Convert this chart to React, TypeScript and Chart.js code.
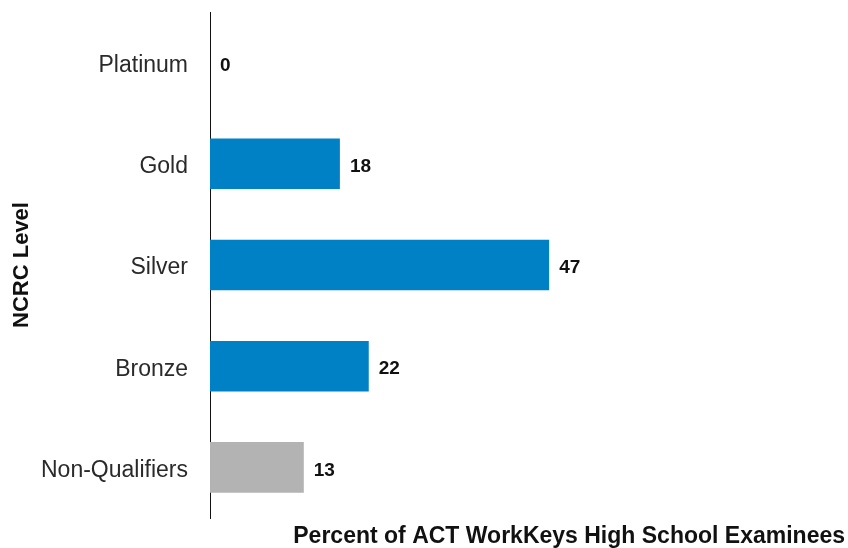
import React, { useEffect, useRef } from "react";
import { Chart, registerables } from "chart.js";

Chart.register(...registerables);

const categories = ["Platinum", "Gold", "Silver", "Bronze", "Non-Qualifiers"];
const percents = [0, 18, 47, 22, 13];
const barColors = ["#0081C6", "#0081C6", "#0081C6", "#0081C6", "#B3B3B3"];
const xTitle = "Percent of ACT WorkKeys High School Examinees";
const yTitle = "NCRC Level";

const FONT = "'Liberation Sans', Arial, sans-serif";

const valueLabels = {
  id: "valueLabels",
  afterDatasetsDraw(chart: any) {
    const ctx = chart.ctx;
    const meta = chart.getDatasetMeta(0);
    ctx.save();
    ctx.font = `bold 19px ${FONT}`;
    ctx.fillStyle = "#111";
    ctx.textAlign = "left";
    ctx.textBaseline = "middle";
    meta.data.forEach((bar: any, i: number) => {
      ctx.fillText(String(percents[i]), bar.x + 10, bar.y + 3);
    });
    ctx.restore();
  },
};

export default function App() {
  const ref = useRef<HTMLCanvasElement | null>(null);
  useEffect(() => {
    if (!ref.current) return;
    const chart = new Chart(ref.current, {
      type: "bar",
      data: {
        labels: categories,
        datasets: [
          {
            data: percents,
            backgroundColor: barColors,
            borderWidth: 0,
            barPercentage: 0.5,
            categoryPercentage: 1,
          },
        ],
      },
      options: {
        indexAxis: "y",
        animation: false,
        responsive: false,
        layout: { padding: { top: 12, right: 3, left: 0, bottom: 0 } },
        plugins: { legend: { display: false }, tooltip: { enabled: false } },
        scales: {
          x: {
            min: 0,
            max: 88,
            grid: { display: false, drawTicks: false },
            border: { display: false },
            ticks: { display: false },
            title: {
              display: true,
              text: xTitle,
              align: "end",
              color: "#111",
              font: { family: FONT, size: 23, weight: "bold", lineHeight: 1.0 },
              padding: { top: 0, bottom: 0 },
            },
            afterFit: (s: any) => {
              s.height = 30;
              s.paddingLeft = 0;
              s.paddingRight = 0;
            },
          },
          y: {
            grid: { display: false, drawTicks: false },
            border: { display: true, color: "#111", width: 1 },
            ticks: {
              color: "#2a2a2a",
              padding: 22,
              labelOffset: 3,
              font: { family: FONT, size: 23 },
            },
            title: {
              display: true,
              text: yTitle,
              color: "#111",
              font: { family: FONT, size: 22, weight: "bold" },
              padding: { top: 9, bottom: 0 },
            },
            afterFit: (s: any) => {
              s.width = 210;
              s.paddingTop = 0;
              s.paddingBottom = 0;
            },
          },
        },
      },
      plugins: [valueLabels],
    });
    return () => chart.destroy();
  }, []);
  return (
    <div style={{ position: "absolute", left: 0, top: 0, width: 848, height: 548, background: "#fff" }}>
      <canvas ref={ref} width={848} height={548} />
    </div>
  );
}
